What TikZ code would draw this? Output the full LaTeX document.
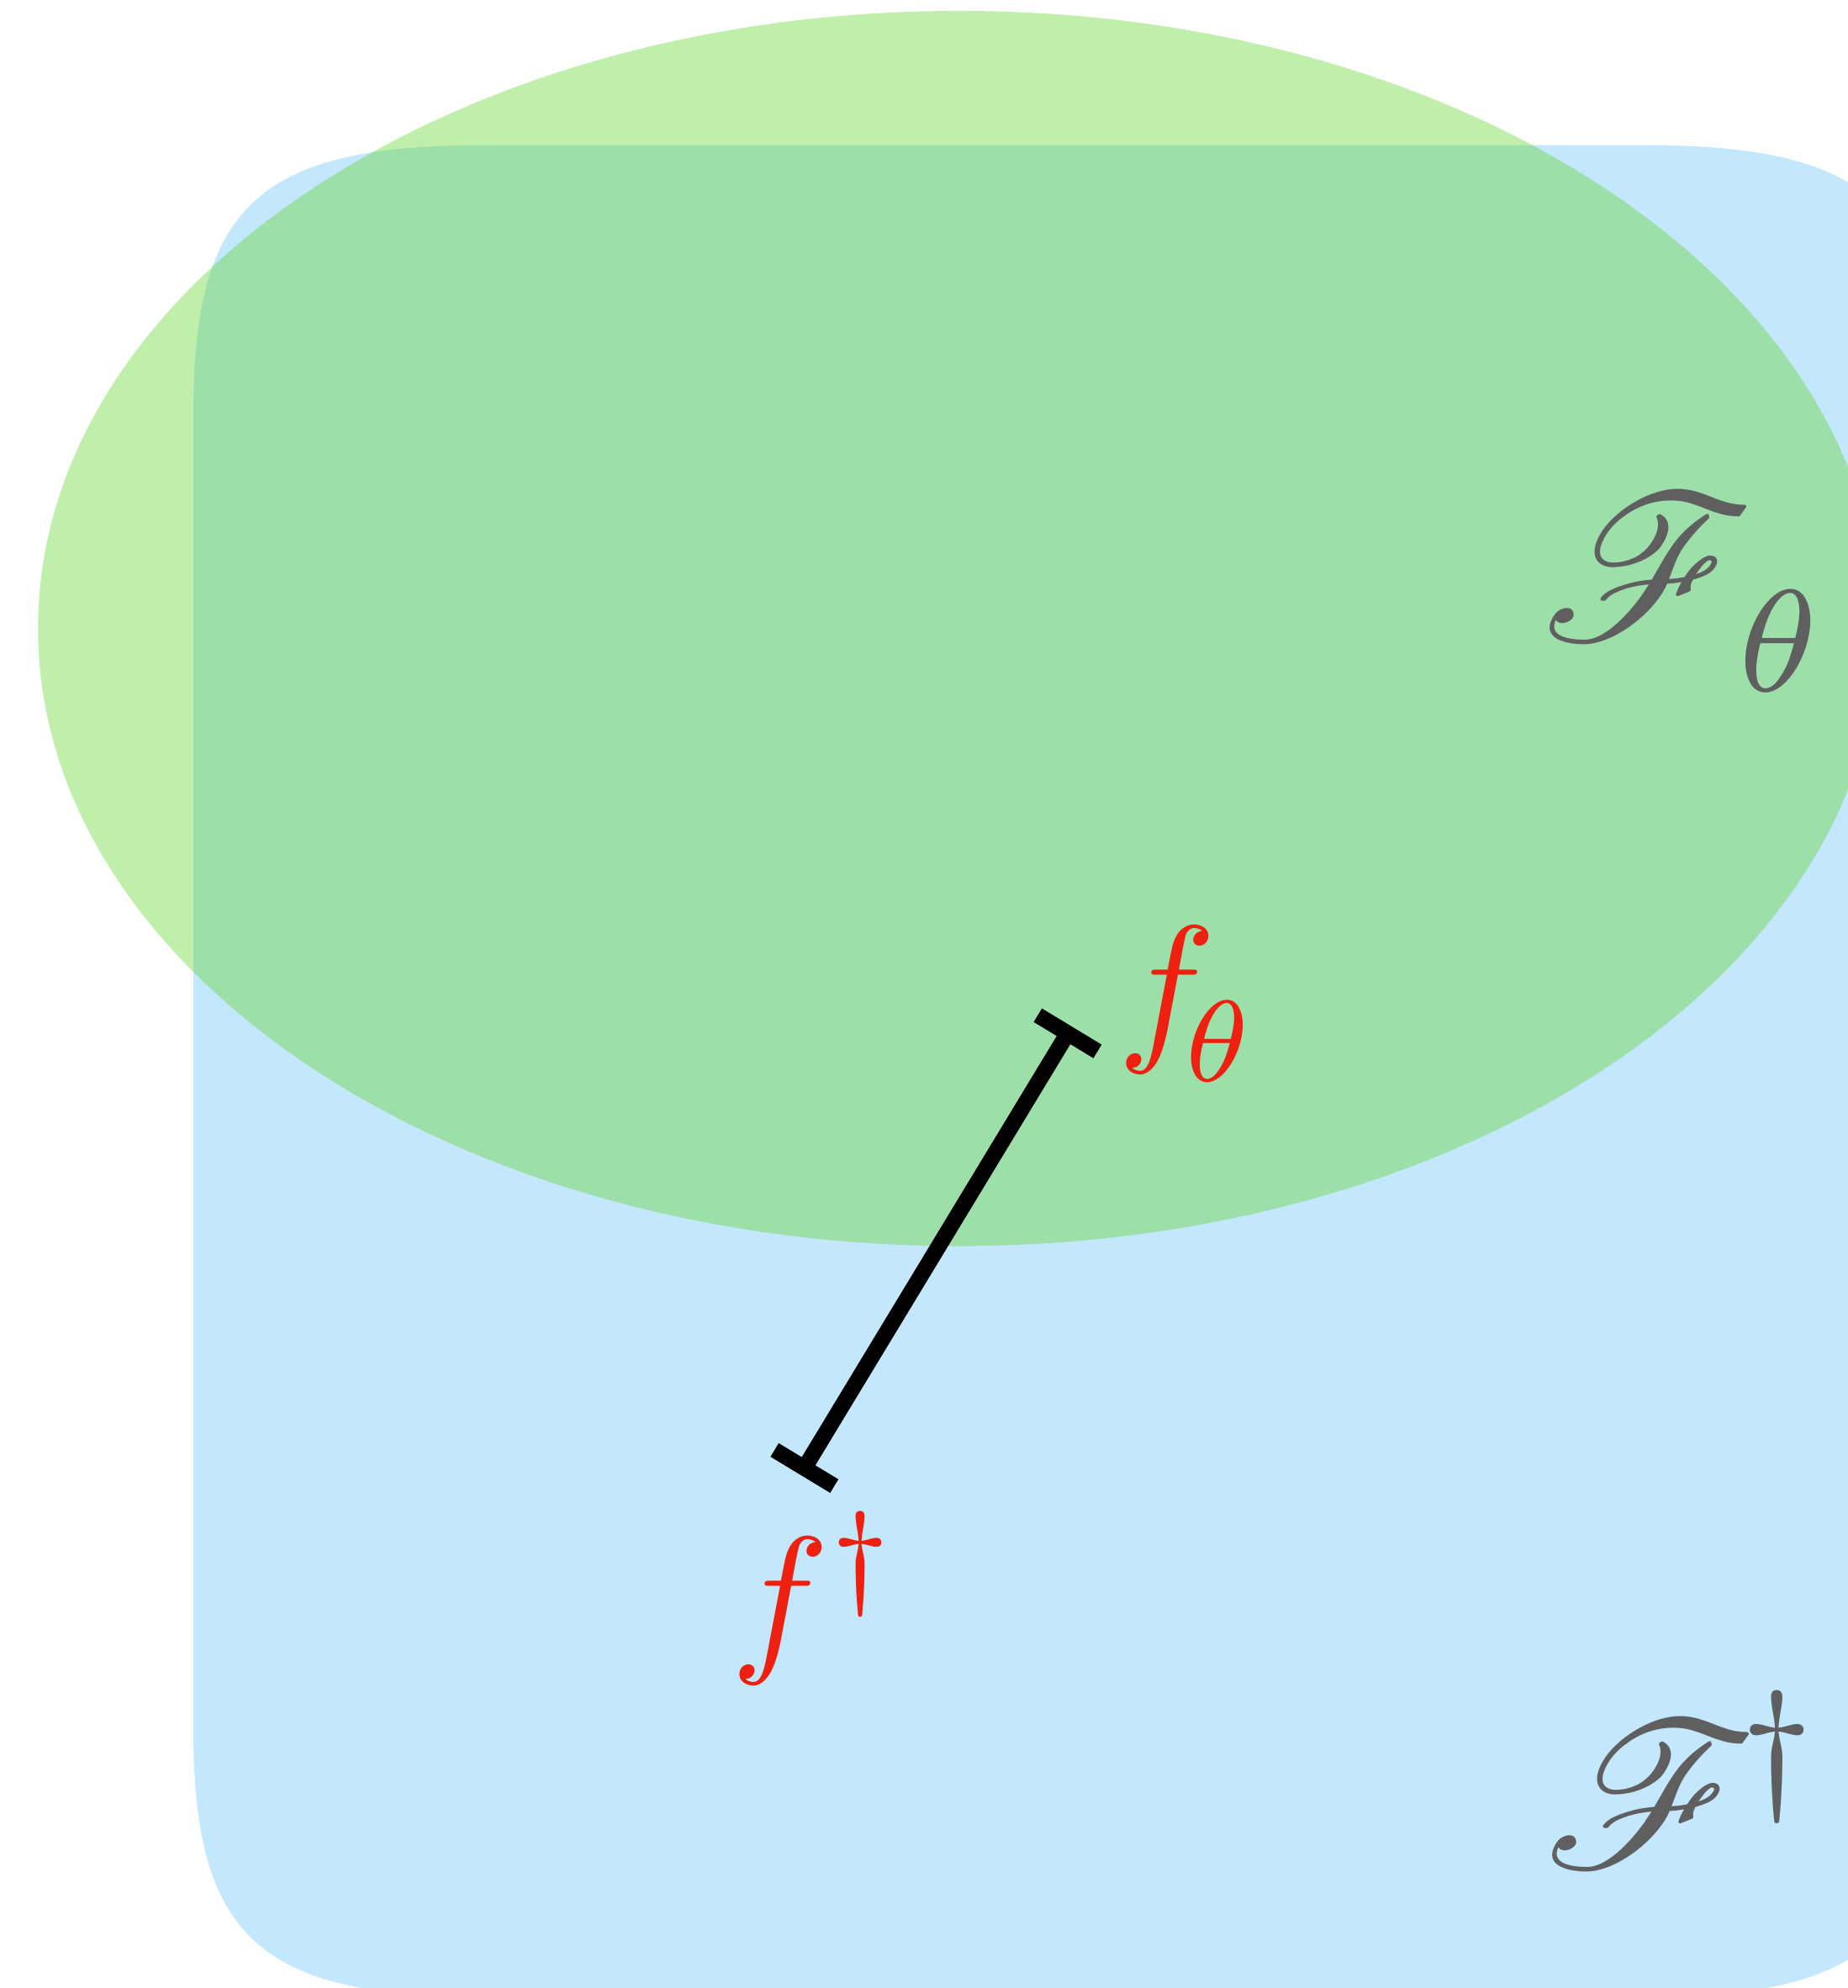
\documentclass[tikz,border=0pt]{standalone}
\usepackage{mathrsfs}
\usetikzlibrary{arrows.meta, positioning}
\definecolor{setblue}{HTML}{C3E7FC}
\definecolor{setgreen}{HTML}{68D638}
\definecolor{fred}{HTML}{EE2010}
\definecolor{fgray}{HTML}{5F5F5F}
% lower subscripts a little
\AtBeginDocument{\sbox0{$\fontdimen16\textfont2=2.47pt$}}
\tikzset{
  setlbl/.style={fgray, inner sep=0pt, anchor=base west, scale=4.65},
  ptlbl/.style={fred, inner sep=0pt, anchor=base west, scale=3.7},
  gapline/.style={line width=0.125cm, {Bar[width=0.55cm]}-{Bar[width=0.55cm]}}
}

\begin{document}
\begin{tikzpicture}
  \useasboundingbox (0,0) rectangle (14.57,15.677);
  \clip (0,0) rectangle (14.57,15.677);
  % big rounded set
  \def\xl{1.525} \def\xr{15.25} \def\yt{14.532} \def\yb{-0.07}
  \fill[setblue] (\xl+2.28,\yt) -- (\xr-2.28,\yt)
    .. controls (\xr-0.52,\yt) and (\xr,\yt-0.48) .. (\xr,\yt-2.1) -- (\xr,\yb+2.1)
    .. controls (\xr,\yb+0.48) and (\xr-0.52,\yb) .. (\xr-2.28,\yb) -- (\xl+2.28,\yb)
    .. controls (\xl+0.52,\yb) and (\xl,\yb+0.48) .. (\xl,\yb+2.1) -- (\xl,\yt-2.1)
    .. controls (\xl,\yt-0.48) and (\xl+0.52,\yt) .. (\xl+2.28,\yt) -- cycle;
  % model set
  \fill[setgreen, fill opacity=0.42] (7.56,10.721) ellipse [x radius=7.26, y radius=4.87];
  % the gap
  \coordinate (ftheta) at (8.45,7.582);
  \coordinate (fdag) at (6.31,4.047);
  \draw[gapline] (fdag) -- (ftheta);
  \node[ptlbl] (lftheta) at (8.79,7.467) {$f_{\mkern-2mu\theta}$};
  \node[ptlbl] (lfdag) at (5.74,2.647) {$f^\dagger$};
  \node[setlbl] (lFtheta) at (12.12,10.627) {$\mathscr{F}_{\mkern1mu\theta}$};
  \node[setlbl] (lFdag) at (12.14,0.95) {$\mathscr{F}^{\mkern-2mu\dagger}$};
\end{tikzpicture}
\end{document}
